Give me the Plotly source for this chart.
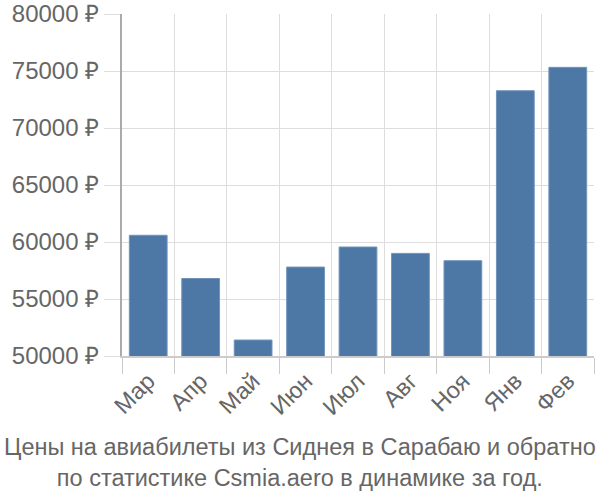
import plotly.graph_objects as go

months = ["Мар", "Апр", "Май", "Июн", "Июл", "Авг", "Ноя", "Янв", "Фев"]
prices = [60590, 56800, 51400, 57800, 59560, 59000, 58360, 73270, 75320]
y_ticks = [50000, 55000, 60000, 65000, 70000, 75000, 80000]
y_labels = [f"{v} ₽" for v in y_ticks]
title_lines = ["Цены на авиабилеты из Сиднея в Сарабаю и обратно",
               "по статистике Csmia.aero в динамике за год."]

fig = go.Figure(go.Bar(x=months, y=prices,
                       marker=dict(color="#4d78a6", line=dict(color="#6f93bb", width=1)),
                       width=0.72))

fig.update_layout(
    width=600, height=500,
    margin=dict(l=122, r=6, t=14, b=144),
    paper_bgcolor="white", plot_bgcolor="white",
    font=dict(family="Liberation Sans, Arial, sans-serif", size=23.5, color="#666666"),
    showlegend=False,
    xaxis=dict(tickson="boundaries", showgrid=True, gridcolor="#dddddd", gridwidth=1,
               ticks="outside", ticklen=16, tickcolor="#cccccc", tickangle=-45,
               showline=True, linecolor="#cccccc", linewidth=2, automargin=False,
               tickfont=dict(size=23.5, color="#666666")),
    yaxis=dict(range=[50000, 80000], tickvals=y_ticks, ticktext=y_labels,
               showgrid=True, gridcolor="#dddddd", gridwidth=1,
               ticks="outside", ticklen=16, tickcolor="#dddddd",
               showline=True, linecolor="#aaaaaa", linewidth=2, zeroline=False,
               automargin=False,
               tickfont=dict(size=24, color="#666666")),
    annotations=[dict(text="<br>".join(title_lines), xref="paper", yref="paper",
                      x=(300 - 122) / 472, y=(356 - 432) / 342,
                      xanchor="center", yanchor="top",
                      showarrow=False, align="center",
                      font=dict(size=23.5, color="#666666"))],
)

fig.write_html("out.html")
